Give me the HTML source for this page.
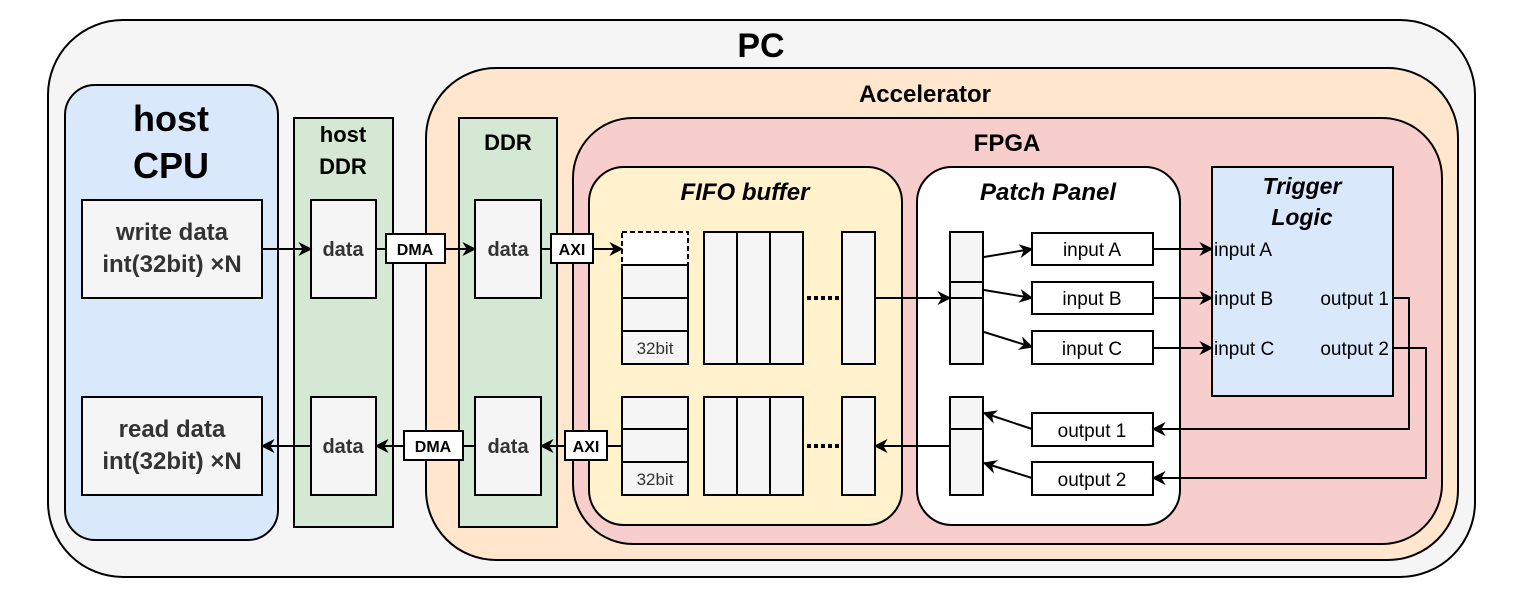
<!DOCTYPE html>
<html><head><meta charset="utf-8"><style>
html,body{margin:0;padding:0;background:#fff;}
svg{display:block;}
text{font-family:"Liberation Sans",Arial,sans-serif;}
</style></head><body>
<svg width="1525" height="597" viewBox="0 0 1525 597" xmlns="http://www.w3.org/2000/svg">
<defs>
<marker id="a" viewBox="0 0 10 10" refX="9" refY="5" markerWidth="14" markerHeight="14" markerUnits="userSpaceOnUse" orient="auto">
<path d="M0,0 L10,5 L0,10 L3,5 Z" fill="#000"/></marker>
</defs>
<g stroke="#000" stroke-width="2">
<rect x="48" y="20" width="1427" height="557" rx="75" fill="#f5f5f5"/>
<rect x="65" y="85" width="213" height="455" rx="30" fill="#dae8fc"/>
<rect x="294" y="118" width="99" height="409" fill="#d5e8d4"/>
<rect x="426" y="68" width="1032" height="492" rx="70" fill="#ffe6cc"/>
<rect x="459" y="118" width="98" height="409" fill="#d5e8d4"/>
<rect x="573" y="118" width="869" height="426" rx="60" fill="#f8cecc"/>
<rect x="589" y="167" width="313" height="358" rx="35" fill="#fff2cc"/>
<rect x="917" y="167" width="263" height="358" rx="35" fill="#fff"/>
<rect x="1212" y="167" width="181" height="229" fill="#dae8fc"/>
</g>
<g stroke="#000" stroke-width="2" fill="#f5f5f5">
<rect x="82" y="200" width="180" height="98"/>
<rect x="82" y="397" width="180" height="98"/>
<rect x="311" y="200" width="65" height="98"/>
<rect x="311" y="397" width="65" height="98"/>
<rect x="475" y="200" width="66" height="98"/>
<rect x="475" y="397" width="66" height="98"/>
<rect x="622" y="232" width="66" height="33" fill="#fff" stroke-dasharray="5,3"/>
<rect x="622" y="265" width="66" height="33"/>
<rect x="622" y="298" width="66" height="33"/>
<rect x="622" y="331" width="66" height="33"/>
<rect x="704" y="232" width="33" height="132"/>
<rect x="737" y="232" width="33" height="132"/>
<rect x="770" y="232" width="33" height="132"/>
<rect x="842" y="232" width="33" height="132"/>
<rect x="622" y="397" width="66" height="32"/>
<rect x="622" y="429" width="66" height="33"/>
<rect x="622" y="462" width="66" height="33"/>
<rect x="704" y="397" width="33" height="98"/>
<rect x="737" y="397" width="33" height="98"/>
<rect x="770" y="397" width="33" height="98"/>
<rect x="842" y="397" width="33" height="98"/>
<rect x="950" y="232" width="33" height="132"/>
<line x1="950" y1="282" x2="983" y2="282"/>
<line x1="950" y1="298" x2="983" y2="298"/>
<rect x="950" y="397" width="33" height="98"/>
<line x1="950" y1="429" x2="983" y2="429"/>
</g>
<g stroke="#000" stroke-width="2" fill="#fff">
<rect x="1032" y="233" width="121" height="32"/>
<rect x="1032" y="282" width="121" height="32"/>
<rect x="1032" y="331" width="121" height="33"/>
<rect x="1032" y="413" width="121" height="33"/>
<rect x="1032" y="462" width="121" height="33"/>
</g>
<g stroke="#000" stroke-width="2" fill="none">
<line x1="262" y1="249" x2="311" y2="249" marker-end="url(#a)"/>
<line x1="376" y1="249" x2="386" y2="249"/>
<line x1="445" y1="249" x2="475" y2="249" marker-end="url(#a)"/>
<line x1="541" y1="249" x2="551" y2="249"/>
<line x1="593" y1="249" x2="622" y2="249" marker-end="url(#a)"/>
<line x1="311" y1="446" x2="262" y2="446" marker-end="url(#a)"/>
<line x1="404" y1="446" x2="376" y2="446" marker-end="url(#a)"/>
<line x1="475" y1="446" x2="463" y2="446"/>
<line x1="565" y1="446" x2="541" y2="446" marker-end="url(#a)"/>
<line x1="622" y1="446" x2="607" y2="446"/>
<line x1="875" y1="298" x2="950" y2="298" marker-end="url(#a)"/>
<line x1="950" y1="446" x2="875" y2="446" marker-end="url(#a)"/>
<line x1="807" y1="298" x2="839" y2="298" stroke-width="4" stroke-dasharray="4,3"/>
<line x1="807" y1="446" x2="839" y2="446" stroke-width="4" stroke-dasharray="4,3"/>
<line x1="984" y1="257" x2="1032" y2="249" marker-end="url(#a)"/>
<line x1="984" y1="290" x2="1032" y2="298" marker-end="url(#a)"/>
<line x1="984" y1="332" x2="1032" y2="347" marker-end="url(#a)"/>
<line x1="1032" y1="429" x2="984" y2="413" marker-end="url(#a)"/>
<line x1="1032" y1="478" x2="984" y2="463" marker-end="url(#a)"/>
<line x1="1153" y1="249" x2="1212" y2="249" marker-end="url(#a)"/>
<line x1="1153" y1="298" x2="1212" y2="298" marker-end="url(#a)"/>
<line x1="1153" y1="348" x2="1212" y2="348" marker-end="url(#a)"/>
<polyline points="1393,298 1409,298 1409,429 1153,429" marker-end="url(#a)"/>
<polyline points="1393,348 1426,348 1426,478 1153,478" marker-end="url(#a)"/>
</g>
<g stroke="#000" stroke-width="2" fill="#fff">
<rect x="386" y="234" width="59" height="29"/>
<rect x="551" y="234" width="42" height="29"/>
<rect x="404" y="431" width="59" height="29"/>
<rect x="565" y="431" width="42" height="29"/>
</g>
<g font-weight="bold" text-anchor="middle" fill="#000">
<text x="761" y="57" font-size="34">PC</text>
<text x="171" y="131" font-size="36">host</text>
<text x="171" y="178" font-size="36">CPU</text>
<text x="343" y="142" font-size="22">host</text>
<text x="343" y="174" font-size="22">DDR</text>
<text x="925" y="102" font-size="24">Accelerator</text>
<text x="508" y="150" font-size="22">DDR</text>
<text x="1007" y="151" font-size="24">FPGA</text>
<text x="745" y="200" font-size="24" font-style="italic">FIFO buffer</text>
<text x="1048" y="200" font-size="24" font-style="italic">Patch Panel</text>
<text x="1302" y="194" font-size="23" font-style="italic">Trigger</text>
<text x="1302" y="225" font-size="23" font-style="italic">Logic</text>
<g fill="#333" font-size="24">
<text x="172" y="240">write data</text>
<text x="172" y="272">int(32bit) ×N</text>
<text x="172" y="437">read data</text>
<text x="172" y="469">int(32bit) ×N</text>
</g>
<g fill="#333" font-size="20">
<text x="343" y="256">data</text>
<text x="343" y="453">data</text>
<text x="508" y="256">data</text>
<text x="508" y="453">data</text>
</g>
<g font-size="16">
<text x="415" y="255">DMA</text>
<text x="572" y="255">AXI</text>
<text x="433" y="452">DMA</text>
<text x="586" y="452">AXI</text>
</g>
</g>
<g font-size="17" fill="#333" text-anchor="middle">
<text x="655" y="354">32bit</text>
<text x="655" y="485">32bit</text>
</g>
<g font-size="19" fill="#000" text-anchor="middle">
<text x="1092" y="256">input A</text>
<text x="1092" y="305">input B</text>
<text x="1092" y="355">input C</text>
<text x="1092" y="437">output 1</text>
<text x="1092" y="486">output 2</text>
</g>
<g font-size="19" fill="#000">
<text x="1214" y="256">input A</text>
<text x="1214" y="305">input B</text>
<text x="1214" y="355">input C</text>
<text x="1389" y="305" text-anchor="end">output 1</text>
<text x="1389" y="355" text-anchor="end">output 2</text>
</g>
</svg>
</body></html>
